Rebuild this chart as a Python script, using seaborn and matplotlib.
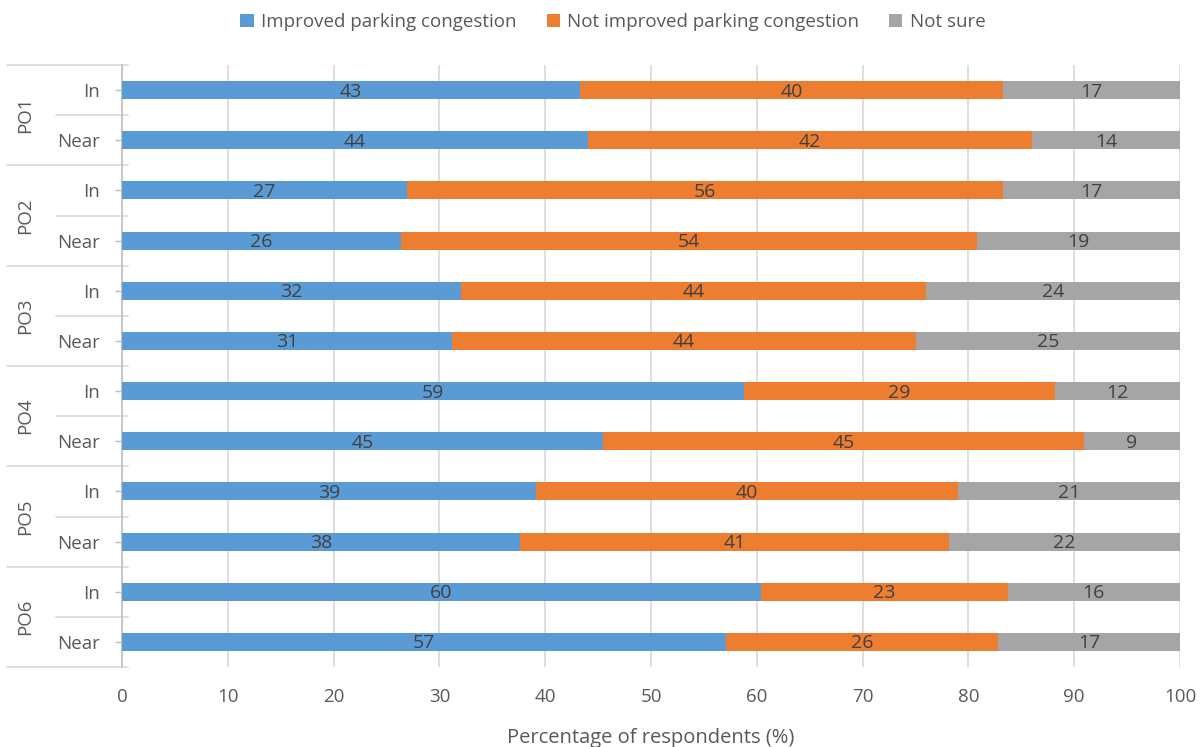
import matplotlib
matplotlib.use("Agg")
import matplotlib.pyplot as plt
from matplotlib.patches import Patch
import matplotlib.transforms as mtransforms
import numpy as np
import pandas as pd
import seaborn as sns

# Survey results: share of respondents per parking-occupancy zone and location
groups = ["PO1", "PO2", "PO3", "PO4", "PO5", "PO6"]
locations = ["In", "Near"]
series_names = ["Improved parking congestion", "Not improved parking congestion", "Not sure"]
improved = [43.3, 44.0, 26.9, 26.4, 32.0, 31.2, 58.8, 45.45, 39.1, 37.6, 60.4, 57.1]
not_improved = [40.0, 42.0, 56.4, 54.4, 44.0, 43.8, 29.4, 45.45, 39.9, 40.6, 23.3, 25.7]
not_sure = [16.7, 14.0, 16.7, 19.2, 24.0, 25.0, 11.8, 9.1, 21.0, 21.8, 16.3, 17.2]
x_ticks = [0, 10, 20, 30, 40, 50, 60, 70, 80, 90, 100]

colors = ["#5B9BD5", "#ED7D31", "#A5A5A5"]
text_grey = "#595959"
label_grey = "#404040"
line_grey = "#D9D9D9"

sns.set_theme(style="white")
plt.rcParams["font.family"] = ["Open Sans", "DejaVu Sans"]

rows = [f"{g} {loc}" for g in groups for loc in locations]
df = pd.DataFrame({
    "row": rows,
    "group": [g for g in groups for _ in locations],
    "location": [loc for _ in groups for loc in locations],
    series_names[0]: improved,
    series_names[1]: not_improved,
    series_names[2]: not_sure,
})
cum = df[series_names].cumsum(axis=1)
starts = cum - df[series_names]

fig = plt.figure(figsize=(12, 7.47), dpi=100)
ax = fig.add_axes([122 / 1200, 1 - 667 / 747, 1058 / 1200, 602 / 747])

# Stacked bars: draw cumulative totals from the back to the front
for name, color in reversed(list(zip(series_names, colors))):
    sns.barplot(data=cum.assign(row=df["row"]), x=name, y="row", order=rows,
                color=color, saturation=1, width=0.36, orient="h", ax=ax,
                edgecolor="none", zorder=3)

# Segment value labels centred on each segment
for name in series_names:
    for i, r in enumerate(rows):
        val = df.loc[i, name]
        mid = starts.loc[i, name] + val / 2
        ax.text(mid, i + 0.03, f"{val:.0f}", ha="center", va="center",
                fontsize=14, color=label_grey, zorder=4)

ax.set_xlim(0, 100)
ax.set_ylim(len(rows) - 0.5, -0.5)
ax.set_xticks(x_ticks)
ax.set_xticklabels([str(t) for t in x_ticks])
ax.xaxis.grid(True, color=line_grey, linewidth=1.2, zorder=0)
ax.yaxis.grid(False)
ax.set_axisbelow(True)
for s in ["top", "right", "bottom"]:
    ax.spines[s].set_visible(False)
ax.spines["left"].set_color("#BFBFBF")
ax.spines["left"].set_linewidth(1.2)

ax.set_yticks(range(len(rows)))
ax.set_yticklabels(df["location"].tolist())
ax.tick_params(axis="y", length=5, width=1, color="#BFBFBF", pad=11,
               labelsize=13.5, labelcolor=text_grey, left=True)
ax.tick_params(axis="x", length=0, pad=15, labelsize=13.5, labelcolor=text_grey)
ax.set_ylabel("")
ax.set_xlabel("Percentage of respondents (%)", fontsize=14.5, color=text_grey,
              labelpad=16)

# Two-level category axis: separators and rotated group names
trans = mtransforms.blended_transform_factory(ax.transAxes, ax.transData)
x_outer, x_inner, x_end = (7 - 122) / 1058, (56 - 122) / 1058, (128 - 122) / 1058
for k in range(len(groups) + 1):
    y = 2 * k - 0.5
    ax.plot([x_outer, x_end], [y, y], transform=trans, color=line_grey,
            linewidth=1.2, clip_on=False, zorder=1)
for k in range(len(groups)):
    y = 2 * k + 0.5
    ax.plot([x_inner, x_end], [y, y], transform=trans, color=line_grey,
            linewidth=1.2, clip_on=False, zorder=1)
    ax.text((25 - 122) / 1058, 2 * k + 0.5, groups[k], transform=trans,
            rotation=90, ha="center", va="center", fontsize=13.5, color=text_grey)

handles = [Patch(facecolor=c, edgecolor="none", label=n) for n, c in zip(series_names, colors)]
fig.legend(handles=handles, loc="center", bbox_to_anchor=(613 / 1200, 1 - 22 / 747),
           ncol=3, frameon=False, fontsize=13.5, labelcolor=text_grey,
           handlelength=0.7, handleheight=0.7, handletextpad=0.4, columnspacing=1.6)

fig.savefig("out.png", dpi=100)
